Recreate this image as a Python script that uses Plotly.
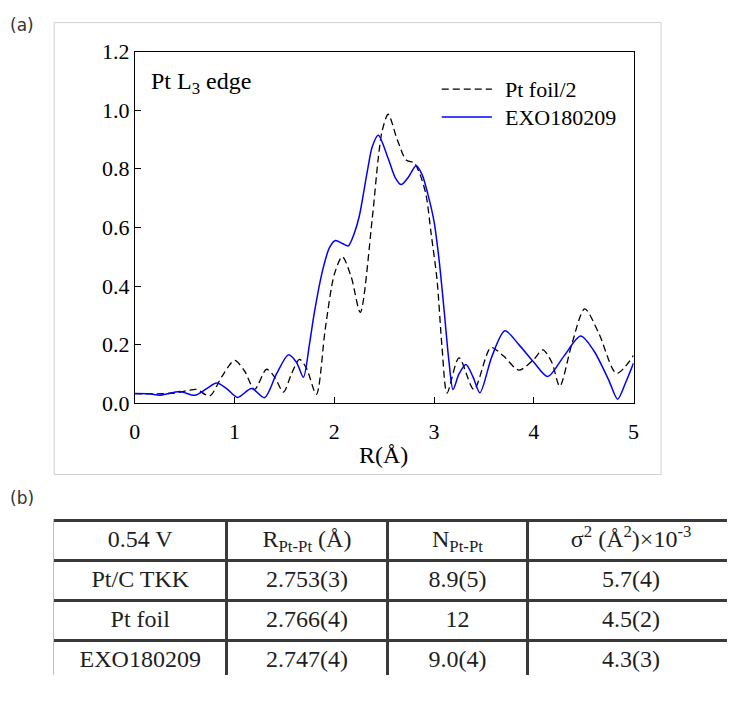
import plotly.graph_objects as go

# ---------------- data ----------------
r_foil = [0.0, 0.2, 0.4, 0.55, 0.62, 0.75, 0.87, 1.0, 1.1, 1.2, 1.32, 1.4, 1.49, 1.57, 1.65,
          1.72, 1.82, 1.91, 2.0, 2.08, 2.17, 2.26, 2.38, 2.44, 2.48, 2.54, 2.63, 2.72, 2.80,
          2.86, 2.92, 2.97, 3.03, 3.08, 3.13, 3.25, 3.40, 3.57, 3.70, 3.85, 4.0, 4.09, 4.18,
          4.26, 4.38, 4.51, 4.65, 4.83, 5.0]
chi_foil = [0.033, 0.032, 0.035, 0.045, 0.047, 0.025, 0.09, 0.146, 0.11, 0.047, 0.116, 0.09,
            0.038, 0.10, 0.15, 0.12, 0.03, 0.256, 0.44, 0.50, 0.43, 0.31, 0.63, 0.835, 0.93,
            0.986, 0.90, 0.83, 0.82, 0.78, 0.71, 0.58, 0.42, 0.19, 0.035, 0.155, 0.047, 0.19,
            0.16, 0.113, 0.15, 0.182, 0.14, 0.058, 0.20, 0.322, 0.24, 0.102, 0.163]

r_exo = [0.0, 0.15, 0.25, 0.45, 0.6, 0.72, 0.82, 0.92, 1.03, 1.17, 1.30, 1.42, 1.54, 1.62,
         1.69, 1.75, 1.80, 1.88, 1.95, 2.01, 2.08, 2.14, 2.20, 2.25, 2.33, 2.38, 2.44, 2.54,
         2.61, 2.67, 2.74, 2.82, 2.88, 2.94, 3.0, 3.05, 3.10, 3.15, 3.19, 3.25, 3.32, 3.39,
         3.46, 3.58, 3.71, 3.85, 4.0, 4.14, 4.3, 4.47, 4.6, 4.75, 4.84, 4.92, 5.0]
chi_exo = [0.033, 0.032, 0.027, 0.04, 0.027, 0.05, 0.069, 0.05, 0.02, 0.05, 0.019, 0.10,
           0.165, 0.14, 0.089, 0.20, 0.31, 0.45, 0.53, 0.555, 0.545, 0.537, 0.58, 0.638,
           0.79, 0.875, 0.914, 0.835, 0.77, 0.746, 0.77, 0.81, 0.78, 0.71, 0.62, 0.49, 0.32,
           0.14, 0.047, 0.10, 0.132, 0.09, 0.036, 0.16, 0.247, 0.20, 0.14, 0.091, 0.16,
           0.229, 0.18, 0.08, 0.014, 0.07, 0.137]

x_ticks = [0, 1, 2, 3, 4, 5]
y_ticks = [0.0, 0.2, 0.4, 0.6, 0.8, 1.0, 1.2]

series_names = ["Pt foil/2", "EXO180209"]

table_header = ["0.54 V", "R<sub>Pt-Pt</sub> (Å)", "N<sub>Pt-Pt</sub>",
                "σ<sup>2</sup> (Å<sup>2</sup>)×10<sup>-3</sup>"]
samples = ["Pt/C TKK", "Pt foil", "EXO180209"]
r_ptpt = ["2.753(3)", "2.766(4)", "2.747(4)"]
n_ptpt = ["8.9(5)", "12", "9.0(4)"]
sigma2 = ["5.7(4)", "4.5(2)", "4.3(3)"]

# ---------------- layout helpers ----------------
# The page body keeps its default 8px margin, so the figure is made 16px
# smaller than the window and every page position is shifted by 8px.
PAGE_W, PAGE_H = 749, 704
OFF = 8
W, H = PAGE_W - 2 * OFF, PAGE_H - 2 * OFF

def px(x):
    return (x - OFF) / W

def py(y):
    return 1 - (y - OFF) / H

SERIF = "Liberation Serif"
BLUE = "#0000ff"

# table geometry (page pixels): column edges and row pitch
COL_EDGES = [57, 232, 396, 538, 749]
TABLE_TOP, ROW_H = 536, 41.5

fig = go.Figure()

fig.add_trace(go.Scatter(
    x=r_foil, y=chi_foil, mode="lines", name=series_names[0],
    line=dict(color="black", width=1.3, dash="7px,4px", shape="spline", smoothing=0.8),
    showlegend=False, cliponaxis=True, hoverinfo="skip"))
fig.add_trace(go.Scatter(
    x=r_exo, y=chi_exo, mode="lines", name=series_names[1],
    line=dict(color=BLUE, width=1.5, shape="spline", smoothing=0.8),
    showlegend=False, cliponaxis=True, hoverinfo="skip"))

# ---- table (b): cell texts drawn on their own axes (x2/y2) ----
columns = [table_header] + [list(c) for c in zip(samples, r_ptpt, n_ptpt, sigma2)]
col_centers = [(COL_EDGES[i] + COL_EDGES[i + 1]) / 2 for i in range(len(COL_EDGES) - 1)]
cell_x, cell_y, cell_text = [], [], []
for r, row in enumerate(columns):
    for c, val in enumerate(row):
        cell_x.append(col_centers[c])
        cell_y.append(r + 0.5)
        cell_text.append(val)
fig.add_trace(go.Scatter(
    x=cell_x, y=cell_y, text=cell_text, mode="text", textposition="middle center",
    textfont=dict(family=SERIF, size=24, color="#1e1e1e"),
    xaxis="x2", yaxis="y2", showlegend=False, cliponaxis=False, hoverinfo="skip"))

axis_common = dict(showline=True, linecolor="black", linewidth=1, mirror=True,
                   ticks="inside", ticklen=6, tickcolor="black", showgrid=False,
                   zeroline=False, tickfont=dict(family=SERIF, size=22, color="black"))

x2_left, x2_right = 57, OFF + W
y2_top_page, y2_bot_page = 534, OFF + H
fig.update_layout(
    width=W, height=H, margin=dict(l=0, r=0, t=0, b=0),
    paper_bgcolor="white", plot_bgcolor="white",
    xaxis=dict(domain=[px(139), px(646)], range=[0, 5], tickvals=x_ticks,
               ticktext=[str(v) for v in x_ticks], anchor="y", ticklabelstandoff=8,
               **axis_common),
    yaxis=dict(domain=[py(414), py(49)], range=[0, 1.2], tickvals=y_ticks,
               ticktext=[f"{v:.1f}" for v in y_ticks], anchor="x", **axis_common),
    xaxis2=dict(domain=[px(x2_left), 1.0], range=[x2_left, x2_right], anchor="y2",
                tickvals=COL_EDGES[1:-1], showticklabels=False, ticks="",
                showgrid=True, gridcolor="#3a3a3a", gridwidth=2.5,
                zeroline=False, showline=False, fixedrange=True),
    yaxis2=dict(domain=[py(y2_bot_page), py(y2_top_page)],
                range=[(y2_bot_page - TABLE_TOP) / ROW_H, (y2_top_page - TABLE_TOP) / ROW_H],
                anchor="x2", tickvals=[0, 1, 2, 3, 4], showticklabels=False, ticks="",
                showgrid=True, gridcolor="#3a3a3a", gridwidth=2.5,
                zeroline=False, showline=True, linecolor="#bdbdbd", linewidth=1,
                fixedrange=True),
    showlegend=False,
)

shapes = [
    # outer light frame around panel (a)
    dict(type="rect", xref="paper", yref="paper", x0=px(57), x1=px(674), y0=py(488), y1=py(19),
         line=dict(color="#d0d0d0", width=1), fillcolor="rgba(0,0,0,0)", layer="below"),
    # legend samples
    dict(type="line", xref="paper", yref="paper", x0=px(451), x1=px(502), y0=py(88), y1=py(88),
         line=dict(color="black", width=1.3, dash="7px,4px")),
    dict(type="line", xref="paper", yref="paper", x0=px(451), x1=px(502), y0=py(117), y1=py(117),
         line=dict(color=BLUE, width=1.5)),
]
fig.update_layout(shapes=shapes)

annotations = [
    dict(text="(a)", x=px(10), y=py(21), xref="paper", yref="paper", xanchor="left",
         yanchor="middle", showarrow=False, font=dict(family="DejaVu Sans", size=17, color="#333")),
    dict(text="(b)", x=px(10), y=py(512), xref="paper", yref="paper", xanchor="left",
         yanchor="middle", showarrow=False, font=dict(family="DejaVu Sans", size=17, color="#333")),
    dict(text="Pt L<sub>3</sub> edge", x=px(153), y=py(82), xref="paper", yref="paper",
         xanchor="left", yanchor="middle", showarrow=False,
         font=dict(family=SERIF, size=24, color="black")),
    dict(text=series_names[0], x=px(513), y=py(88), xref="paper", yref="paper",
         xanchor="left", yanchor="middle", showarrow=False,
         font=dict(family=SERIF, size=22, color="black")),
    dict(text=series_names[1], x=px(513), y=py(117), xref="paper", yref="paper",
         xanchor="left", yanchor="middle", showarrow=False,
         font=dict(family=SERIF, size=22, color="black")),
    dict(text="R(Å)", x=px(392), y=py(468), xref="paper", yref="paper",
         xanchor="center", yanchor="middle", showarrow=False,
         font=dict(family=SERIF, size=24, color="black")),
]
fig.update_layout(annotations=annotations)

fig.write_html("out.html")
